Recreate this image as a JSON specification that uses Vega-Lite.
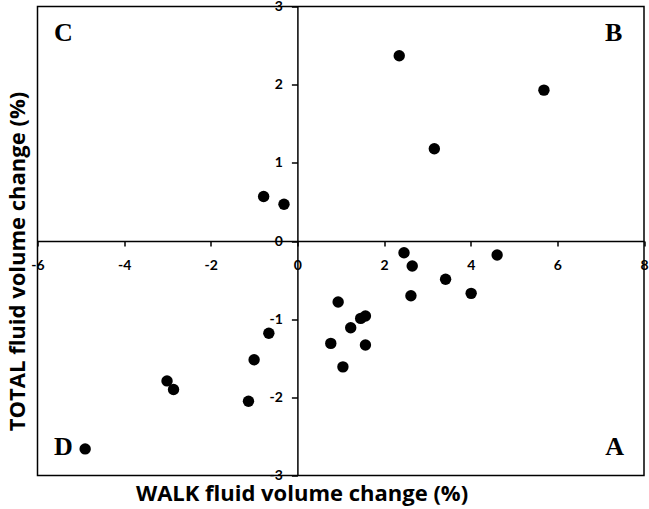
{
  "$schema": "https://vega.github.io/schema/vega-lite/v6.json",
  "width": 606.5,
  "height": 469,
  "autosize": "none",
  "padding": {"left": 37.5, "top": 6.5, "right": 5, "bottom": 33.5},
  "background": "white",
  "config": {"view": {"stroke": "black", "strokeWidth": 1.5}},
  "datasets": {
    "points": [
      {"walk": 2.35, "total": 2.37},
      {"walk": 5.69, "total": 1.93},
      {"walk": 3.16, "total": 1.18},
      {"walk": -0.78, "total": 0.57},
      {"walk": -0.31, "total": 0.47},
      {"walk": 2.46, "total": -0.15},
      {"walk": 2.65, "total": -0.32},
      {"walk": 4.61, "total": -0.18},
      {"walk": 3.42, "total": -0.49},
      {"walk": 2.62, "total": -0.70},
      {"walk": 4.01, "total": -0.67},
      {"walk": 0.94, "total": -0.78},
      {"walk": 1.46, "total": -0.99},
      {"walk": 1.57, "total": -0.96},
      {"walk": 1.23, "total": -1.11},
      {"walk": 0.77, "total": -1.31},
      {"walk": 1.57, "total": -1.33},
      {"walk": 1.05, "total": -1.61},
      {"walk": -0.66, "total": -1.18},
      {"walk": -1.00, "total": -1.52},
      {"walk": -1.13, "total": -2.05},
      {"walk": -3.01, "total": -1.79},
      {"walk": -2.86, "total": -1.90},
      {"walk": -4.90, "total": -2.66}
    ],
    "quadrants": [
      {"walk": -5.4, "total": 2.66, "label": "C"},
      {"walk": 7.3, "total": 2.66, "label": "B"},
      {"walk": -5.4, "total": -2.64, "label": "D"},
      {"walk": 7.32, "total": -2.64, "label": "A"}
    ]
  },
  "layer": [
    {
      "data": {"name": "points"},
      "mark": {"type": "point", "filled": true, "shape": "circle", "size": 130, "color": "black", "opacity": 1, "strokeWidth": 0},
      "encoding": {
        "x": {
          "field": "walk",
          "type": "quantitative",
          "scale": {"domain": [-6, 8], "nice": false, "zero": false},
          "axis": {
            "title": "WALK fluid volume change (%)",
            "offset": -234.5,
            "values": [-6, -4, -2, 0, 2, 4, 6, 8],
            "grid": false,
            "domainColor": "black",
            "domainWidth": 1.5,
            "tickColor": "black",
            "tickSize": 5,
            "tickWidth": 1.5,
            "labelFont": "Lato",
            "labelFontWeight": "bold",
            "labelFontSize": 14,
            "labelColor": "black",
            "labelPadding": 12,
            "labelFlush": false,
            "labelOverlap": false,
            "labelBound": false,
            "labelExpr": "'' + datum.value",
            "titleFont": "Open Sans",
            "titleFontWeight": "bold",
            "titleFontSize": 22,
            "titleColor": "black",
            "titleX": 264,
            "titleY": 252,
            "titleAlign": "center",
            "titleBaseline": "middle"
          }
        },
        "y": {
          "field": "total",
          "type": "quantitative",
          "scale": {"domain": [-3, 3], "nice": false, "zero": false},
          "axis": {
            "title": "TOTAL fluid volume change (%)",
            "offset": -259.9,
            "values": [-3, -2, -1, 0, 1, 2, 3],
            "grid": false,
            "domainColor": "black",
            "domainWidth": 1.5,
            "tickColor": "black",
            "tickSize": 6,
            "tickWidth": 1.5,
            "labelFont": "Lato",
            "labelFontWeight": "bold",
            "labelFontSize": 14,
            "labelColor": "black",
            "labelPadding": 9,
            "labelFlush": false,
            "labelOverlap": false,
            "labelBound": false,
            "labelExpr": "'' + datum.value",
            "titleFont": "Open Sans",
            "titleFontWeight": "bold",
            "titleFontSize": 22,
            "titleColor": "black",
            "titleX": -279.5,
            "titleY": 254.5,
            "titleAngle": 270,
            "titleAlign": "center",
            "titleBaseline": "middle"
          }
        }
      }
    },
    {
      "data": {"name": "quadrants"},
      "mark": {"type": "text", "font": "Liberation Serif", "fontWeight": "bold", "fontSize": 26, "color": "black", "align": "center", "baseline": "middle"},
      "encoding": {
        "x": {"field": "walk", "type": "quantitative"},
        "y": {"field": "total", "type": "quantitative"},
        "text": {"field": "label"}
      }
    }
  ]
}
